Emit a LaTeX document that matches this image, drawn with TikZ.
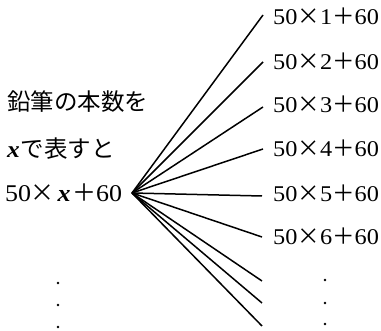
\documentclass[tikz,border=0pt]{standalone}
\usepackage{fontspec}
\setmainfont[FakeStretch=1.08]{Liberation Serif}
\newfontfamily\jp{Noto Sans CJK JP}
\newcommand\mytimes{\makebox[22.5pt]{\jp ×}}
\newcommand\myplus{\makebox[22.5pt]{\jp ＋}}
\newcommand\myx{\textbf{\textit{x}}}
\begin{document}
\begin{tikzpicture}[x=1pt,y=-1pt,
  lab/.style={anchor=base west, inner sep=0pt, font=\fontsize{22.5}{23}\selectfont},
  llab/.style={anchor=base west, inner sep=0pt, font=\fontsize{24}{24}\selectfont},
  jlab/.style={anchor=base west, inner sep=0pt, font=\fontsize{23.5}{24}\selectfont},
  fan/.style={line width=1.5pt},
  dotmark/.style={fill=black, draw=none}]
\useasboundingbox (0,0) rectangle (381,331);
% left texts
\node[jlab] (t1) at (7,111) {\jp 鉛筆の本数を};
\node[jlab] (t2) at (7,158) {\myx\hspace{1pt}\jp で表すと};
\node[llab] (t3) at (5,202) {50\mytimes\hspace{4pt}\myx\hspace{3pt}\myplus 60};
% origin
\coordinate (O) at (132,193);
% end points
\coordinate (e1) at (263,15);
\coordinate (e2) at (263,62);
\coordinate (e3) at (263,107);
\coordinate (e4) at (263,149);
\coordinate (e5) at (262,196);
\coordinate (e6) at (262,237);
\coordinate (e7) at (262,281);
\coordinate (e8) at (262,303);
\coordinate (e9) at (262,326);
\foreach \i in {1,...,9} \draw[fan] (O) -- (e\i);
% right labels
\node[lab] (r1) at (273,25) {50\mytimes 1\myplus 60};
\node[lab] (r2) at (273,70) {50\mytimes 2\myplus 60};
\node[lab] (r3) at (273,113) {50\mytimes 3\myplus 60};
\node[lab] (r4) at (273,157) {50\mytimes 4\myplus 60};
\node[lab] (r5) at (273,202) {50\mytimes 5\myplus 60};
\node[lab] (r6) at (273,245) {50\mytimes 6\myplus 60};
% dots
\foreach \y in {283,305,327} \fill[dotmark] (58,\y) circle (1.4);
\foreach \y in {280,303,324} \fill[dotmark] (325,\y) circle (1.4);
\end{tikzpicture}
\end{document}
